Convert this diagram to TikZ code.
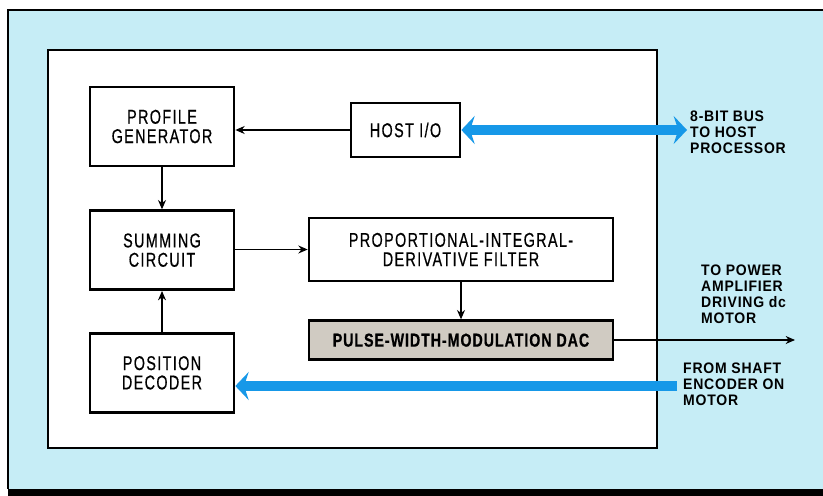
\documentclass[tikz,border=0pt]{standalone}
\usepackage{fontspec}
\setmainfont[FakeStretch=0.88]{Liberation Sans}
\newfontfamily\blockfont[FakeStretch=0.72, LetterSpace=7, FakeBold=0.6]{Liberation Sans}
\newfontfamily\dacfont[FakeStretch=0.76, LetterSpace=5, FakeBold=0.6]{Liberation Sans}
\newfontfamily\notefont[FakeStretch=0.92, LetterSpace=5]{Liberation Sans}
\usetikzlibrary{positioning, arrows.meta}
\definecolor{panelblue}{RGB}{198,237,246}
\definecolor{busblue}{RGB}{22,152,232}
\definecolor{dacgrey}{RGB}{208,203,194}
\tikzset{
  block/.style={
    draw,
    rectangle,
    line width=0.8mm,
    minimum width=43.2mm,
    minimum height=23.7mm,
    align=center,
    fill=white,
    font=\blockfont\fontsize{17}{16.5}\selectfont
  },
  flow/.style={
    line width=0.4mm,
    -{Stealth[length=2.8mm, width=2.4mm]}
  },
  bus/.style={
    busblue,
    line width=3mm
  },
  note/.style={
    anchor=north west,
    inner sep=0pt,
    align=left,
    font=\notefont\bfseries\fontsize{13}{13.6}\selectfont
  }
}

\begin{document}
\begin{tikzpicture}[x=0.3mm, y=-0.3mm]
    \useasboundingbox (0,0) rectangle (823,496);
    % background panel and the chip outline
    \fill[panelblue] (8,10) rectangle (823,489);
    \fill[black] (8,489) rectangle (823,496);
    \draw[line width=0.6mm] (823,10) -- (8,10) -- (8,489);
    \draw[line width=0.6mm, fill=white] (48,50) rectangle (657,448);

    \node[block] (profile) at (162,126.5) {PROFILE\\GENERATOR};
    \node[block, below=12.6mm of profile] (summing) {SUMMING\\CIRCUIT};
    \node[block, below=12.3mm of summing] (position) {POSITION\\DECODER};
    \node[block, minimum width=32.7mm, minimum height=16.2mm] (host) at (405.5,130) {HOST I/O};
    \node[block, minimum width=91.2mm, minimum height=18.9mm] (pid) at (461,249.5)
        {PROPORTIONAL-INTEGRAL-\\DERIVATIVE FILTER};
    \node[block, minimum width=91.2mm, minimum height=11.7mm, fill=dacgrey,
          below=11.1mm of pid, font=\dacfont\bfseries\fontsize{16}{17}\selectfont] (pwm)
        {PULSE-WIDTH-MODULATION DAC};

    \coordinate (hostbus) at (687,130);
    \coordinate (motorout) at (795,340);
    \coordinate (encoderin) at (677,386);

    \draw[flow] (host) -- (host -| profile.east);
    \draw[flow] (profile) -- (summing);
    \draw[flow] (position) -- (summing);
    \draw[flow] (summing.east |- pid) -- (pid);
    \draw[flow] (pid) -- (pwm);
    \draw[flow] (pwm.east |- motorout) -- (motorout);

    \draw[bus, {Stealth[length=4mm, width=8.4mm, inset=1.4mm]}-{Stealth[length=4mm, width=8.4mm, inset=1.4mm]}]
        (host.east) -- (hostbus);
    \draw[bus, -{Stealth[length=4mm, width=8.4mm, inset=1.4mm]}]
        (encoderin) -- (position.east |- encoderin);

    \node[note] (buslabel) at (690,111) {8-BIT BUS\\TO HOST\\PROCESSOR};
    \node[note] (motorlabel) at (701,265) {TO POWER\\AMPLIFIER\\DRIVING dc\\MOTOR};
    \node[note] (encoderlabel) at (683,363) {FROM SHAFT\\ENCODER ON\\MOTOR};
\end{tikzpicture}
\end{document}
